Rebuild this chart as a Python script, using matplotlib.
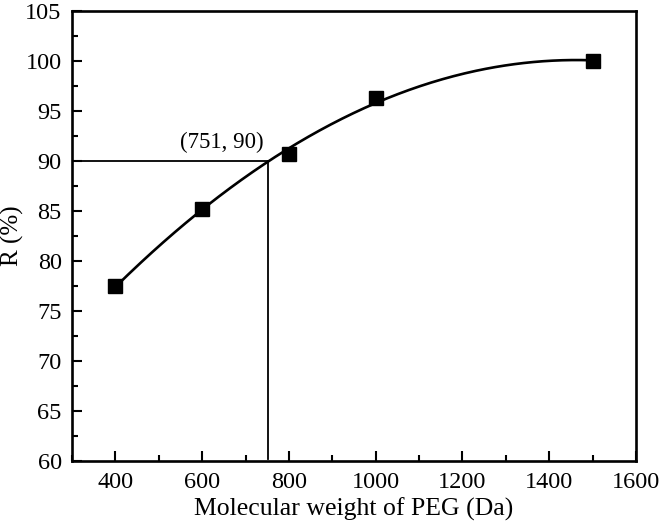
import matplotlib
matplotlib.use("Agg")
import matplotlib.pyplot as plt
import numpy as np
from matplotlib.ticker import MultipleLocator

plt.rcParams["font.family"] = ["Liberation Serif", "DejaVu Serif"]

# measured points
mw = [400, 600, 800, 1000, 1500]
rejection = [77.5, 85.2, 90.7, 96.3, 100.0]

# read-off point marked on the curve
mark_x = 751
mark_y = 90

fig = plt.figure(figsize=(6.61, 5.28), dpi=100)
ax = fig.add_axes([0.109, 0.127, 0.853, 0.852])

# quadratic fit through the measured points
coef = np.polyfit(mw, rejection, 2)
xs = np.linspace(mw[0], mw[-1], 300)
ax.plot(xs, np.polyval(coef, xs), color="black", lw=1.9, zorder=2)
ax.plot(mw, rejection, "s", color="black", markersize=10, zorder=3)

ax.plot([300, mark_x], [mark_y, mark_y], color="black", lw=1.3)
ax.plot([mark_x, mark_x], [60.2, mark_y], color="black", lw=1.3)
ax.text(mark_x - 10, mark_y + 0.8, f"({mark_x}, {mark_y})", ha="right", va="bottom",
        fontsize=16.5)

ax.set_xlim(300, 1600)
ax.set_ylim(60, 105)
ax.xaxis.set_major_locator(MultipleLocator(200))
ax.xaxis.set_minor_locator(MultipleLocator(100))
ax.yaxis.set_major_locator(MultipleLocator(5))
ax.yaxis.set_minor_locator(MultipleLocator(2.5))
ax.set_xticks([400, 600, 800, 1000, 1200, 1400, 1600])

ax.tick_params(which="both", direction="in", top=False, right=False, labelsize=17.5, width=1.5)
ax.tick_params(which="major", length=7)
ax.tick_params(which="minor", length=4)
ax.tick_params(axis="x", pad=8)
ax.tick_params(axis="y", pad=7.5)
for s in ax.spines.values():
    s.set_linewidth(1.9)

ax.set_xlabel("Molecular weight of PEG (Da)", fontsize=18.5, labelpad=3)
ax.set_ylabel("R (%)", fontsize=18)
ax.yaxis.set_label_coords(-0.086, 0.5)

plt.savefig("out.png", dpi=100)
plt.close()
